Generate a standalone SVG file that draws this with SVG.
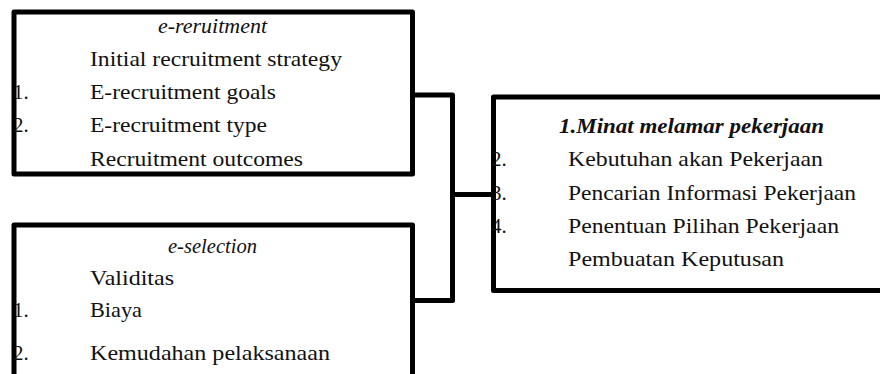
<svg xmlns="http://www.w3.org/2000/svg" width="880" height="374" viewBox="0 0 880 374">
<style>
.box{fill:#fff;stroke:#000;stroke-width:5;stroke-linejoin:round}
.ln{fill:none;stroke:#000;stroke-width:5;stroke-linejoin:round}
text{font-family:"Liberation Serif","Times New Roman",serif;font-size:21px;fill:#111}
.it{font-style:italic}
.bi{font-style:italic;font-weight:bold}
</style>
<rect width="880" height="374" fill="#fff"/>
<g id="connectors">
<path class="ln" d="M412.5,95 H452.5 V300.5 H412.5"/>
<path class="ln" d="M452.5,194.5 H493.5"/>
</g>
<g id="e-recruitment">
<rect class="box" x="14" y="12" width="398.5" height="162"/>
<text class="it" x="212.5" y="33" text-anchor="middle" textLength="109" lengthAdjust="spacingAndGlyphs">e-reruitment</text>
<text x="90" y="66" textLength="252" lengthAdjust="spacingAndGlyphs">Initial recruitment strategy</text>
<text x="13" y="99">1.</text>
<text x="90" y="99" textLength="186" lengthAdjust="spacingAndGlyphs">E-recruitment goals</text>
<text x="13" y="132">2.</text>
<text x="90" y="132" textLength="177" lengthAdjust="spacingAndGlyphs">E-recruitment type</text>
<text x="90" y="166" textLength="213" lengthAdjust="spacingAndGlyphs">Recruitment outcomes</text>
</g>
<g id="e-selection">
<rect class="box" x="14" y="225" width="398.5" height="170"/>
<text class="it" x="212.5" y="253" text-anchor="middle" textLength="89" lengthAdjust="spacingAndGlyphs">e-selection</text>
<text x="90" y="285" textLength="84" lengthAdjust="spacingAndGlyphs">Validitas</text>
<text x="13" y="317">1.</text>
<text x="90" y="317" textLength="52" lengthAdjust="spacingAndGlyphs">Biaya</text>
<text x="13" y="360">2.</text>
<text x="90" y="360" textLength="240" lengthAdjust="spacingAndGlyphs">Kemudahan pelaksanaan</text>
</g>
<g id="minat">
<rect class="box" x="493.5" y="97" width="400" height="193.5"/>
<text class="bi" x="559" y="133" textLength="265" lengthAdjust="spacingAndGlyphs">1.Minat melamar pekerjaan</text>
<text x="491" y="166">2.</text>
<text x="568" y="166" textLength="255" lengthAdjust="spacingAndGlyphs">Kebutuhan akan Pekerjaan</text>
<text x="491" y="199.5">3.</text>
<text x="568" y="199.5" textLength="288" lengthAdjust="spacingAndGlyphs">Pencarian Informasi Pekerjaan</text>
<text x="491" y="233">4.</text>
<text x="568" y="233" textLength="271" lengthAdjust="spacingAndGlyphs">Penentuan Pilihan Pekerjaan</text>
<text x="568" y="266" textLength="216" lengthAdjust="spacingAndGlyphs">Pembuatan Keputusan</text>
</g>
</svg>
